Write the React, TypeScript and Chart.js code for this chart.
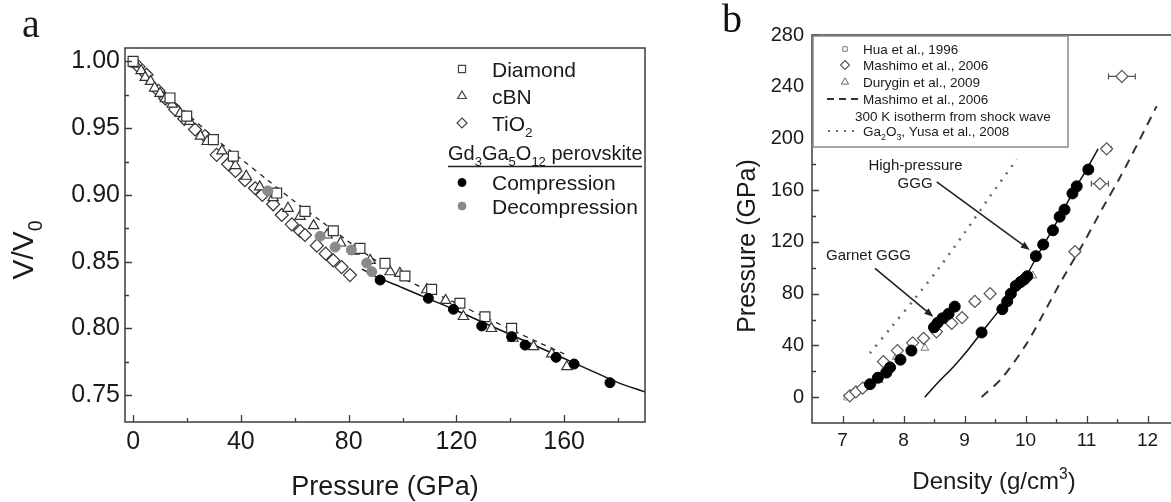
import React, { useEffect, useRef } from 'react';
import { Chart, registerables } from 'chart.js';

Chart.register(...registerables);

type Pt = [number, number];

// ---------------- Panel a: V/V0 vs Pressure (GPa) ----------------
const diamondSeries: Pt[] = [
  [0, 1.0], [13.7, 0.9726], [19.9, 0.959], [29.8, 0.9414], [37.2, 0.929], [53.3, 0.9014],
  [63.8, 0.8877], [74.3, 0.8732], [84.2, 0.86], [93.5, 0.8488], [100.9, 0.8393],
  [110.8, 0.8293], [121.3, 0.8189], [130.6, 0.8088], [140.5, 0.8002],
];
const cbnSeries: Pt[] = [
  [1, 0.998], [3, 0.993], [4.5, 0.988], [6.5, 0.985], [8, 0.98], [10, 0.976], [12, 0.972],
  [14.5, 0.968], [17.5, 0.961], [21, 0.955], [25, 0.944], [27.5, 0.94], [33, 0.933],
  [38, 0.922], [42, 0.914], [47, 0.906], [52, 0.898], [57.5, 0.89], [62, 0.884], [67, 0.877],
  [72, 0.87], [77, 0.864], [82, 0.858], [88, 0.851], [95.4, 0.8425], [99, 0.8413],
  [109, 0.829], [116, 0.821], [122.6, 0.809], [133, 0.8], [141, 0.7927], [148.6, 0.7864],
  [155.4, 0.781], [161, 0.7714],
];
const tio2Series: Pt[] = [
  [2, 0.996], [5, 0.99], [9.4, 0.978], [12, 0.972], [15.6, 0.964], [19, 0.957], [23, 0.949],
  [26.7, 0.944], [31, 0.93], [35.3, 0.923], [38, 0.918], [41.5, 0.911], [45.3, 0.905],
  [48, 0.9], [52, 0.893], [55.2, 0.885], [58.9, 0.878], [62, 0.873], [63.8, 0.87],
  [68.2, 0.862], [71.5, 0.856], [74.3, 0.851], [77.4, 0.846], [80.5, 0.84],
];
const compressionSeries: Pt[] = [
  [91.7, 0.8363], [109.6, 0.8226], [118.9, 0.8144], [129.4, 0.8019], [140.5, 0.7939],
  [145.5, 0.7876], [157, 0.7784], [163.7, 0.7734], [177, 0.7594],
];
const decompressionSeries: Pt[] = [
  [50, 0.903], [69.4, 0.869], [75, 0.861], [81, 0.8588], [86.7, 0.849], [88.6, 0.8425],
];
const perovskiteFit: Pt[] = [
  [85, 0.8445], [90, 0.839], [100, 0.8305], [110, 0.822], [120, 0.8135], [130, 0.8045],
  [140, 0.7955], [150, 0.7865], [160, 0.7775], [170, 0.7685], [180, 0.7595], [190, 0.7525],
];
const referenceFit: Pt[] = [
  [0, 1.0], [10, 0.98], [20, 0.961], [30, 0.943], [40, 0.927], [50, 0.911], [60, 0.895],
  [70, 0.88], [80, 0.865], [90, 0.851], [100, 0.838], [110, 0.828], [120, 0.819],
  [130, 0.809], [140, 0.7995], [150, 0.79], [160, 0.781],
];
const aXTicks = [0, 40, 80, 120, 160];
const aXMinor = [20, 60, 100, 140, 180];
const aYTicks = [0.75, 0.8, 0.85, 0.9, 0.95, 1.0];
const aYMinor = [0.775, 0.825, 0.875, 0.925, 0.975];
const aLegendTop = ['Diamond', 'cBN', 'TiO₂'];
const aLegendHeader = 'Gd₃Ga₅O₁₂ perovskite';
const aLegendBottom = ['Compression', 'Decompression'];

// ---------------- Panel b: Pressure (GPa) vs Density (g/cm3) ----------------
const huaSeries: Pt[] = [
  [7.07, 0], [7.12, 1.5], [7.17, 3], [7.22, 4.5], [7.29, 5.5], [7.35, 7], [7.42, 9], [7.5, 11],
];
const mashimoSeries: Pt[] = [
  [7.12, 1], [7.22, 4], [7.33, 7], [7.67, 27.5], [7.9, 36], [8.15, 42], [8.33, 45.5],
  [8.54, 50.5], [8.79, 57], [8.96, 61.5], [9.17, 74], [9.42, 80], [10.81, 112.5],
  [11.22, 165], [11.33, 192], [11.58, 248],
];
const mashimoXErr = [0, 0, 0, 0, 0, 0, 0, 0.04, 0.05, 0.05, 0.07, 0.05, 0.06, 0.14, 0.07, 0.22];
const duryginSeries: Pt[] = [
  [7.15, 2], [7.35, 7], [7.6, 13], [7.68, 21], [7.88, 31], [8.35, 38], [10.12, 94],
];
const garnetGGG: Pt[] = [
  [7.45, 10], [7.58, 15], [7.72, 19], [7.78, 23], [7.95, 29], [8.13, 36], [8.5, 54],
  [8.56, 57.5], [8.64, 61], [8.74, 64.5], [8.84, 70],
];
const highPressureGGG: Pt[] = [
  [9.28, 50], [9.62, 68], [9.7, 74], [9.76, 80], [9.84, 86], [9.92, 89], [9.98, 91],
  [10.03, 93.5], [10.17, 109], [10.29, 118], [10.45, 129], [10.56, 139.5], [10.64, 145],
  [10.77, 157.5], [10.84, 163], [11.03, 176],
];
const hpFit: Pt[] = [
  [8.35, 0], [8.6, 13], [8.82, 23.5], [9.05, 36], [9.28, 50], [9.5, 63], [9.75, 78],
  [10.0, 93], [10.2, 110], [10.4, 126], [10.6, 143], [10.8, 160], [11.0, 176], [11.19, 192],
];
const shockIsotherm: Pt[] = [
  [9.28, 0], [9.6, 14], [10.0, 40], [10.3, 65], [10.6, 91], [10.95, 119], [11.25, 145],
  [11.55, 170], [11.85, 197], [12.15, 225],
];
const ga2o3Curve: Pt[] = [
  [7.45, 34], [7.8, 54], [8.2, 77], [8.6, 101], [9.0, 127], [9.4, 154], [9.86, 184],
];
const bXTicks = [7, 8, 9, 10, 11, 12];
const bXMinor = [7.5, 8.5, 9.5, 10.5, 11.5];
const bYTicks = [0, 40, 80, 120, 160, 200, 240, 280];
const bYMinor = [20, 60, 100, 140, 180, 220, 260];
const bLegendLabels = [
  'Hua et al., 1996',
  'Mashimo et al., 2006',
  'Durygin et al., 2009',
  'Mashimo et al., 2006',
  '300 K isotherm from shock wave',
  'Ga₂O₃, Yusa et al., 2008',
];
const bNotes = [
  { lines: ['High-pressure', 'GGG'], at: [[8.197, 179.5], [8.19, 165.6]], from: [8.545, 166.5], to: [10.07, 113.8] },
  { lines: ['Garnet GGG'], at: [[7.426, 109.9]], from: [7.533, 99.6], to: [8.489, 62.2] },
];

// ---------------- styling helpers ----------------
const FONT = '"Liberation Sans", Arial, Helvetica, sans-serif';
const SERIF = '"Liberation Serif", "Times New Roman", serif';
const AX = '#3c3c3c';
const TXT = '#1a1a1a';
const SUBS = '\u2080\u2081\u2082\u2083\u2084\u2085\u2086\u2087\u2088\u2089';
const SUPS = '\u2070\u00B9\u00B2\u00B3\u2074\u2075\u2076\u2077\u2078\u2079';

function splitRich(text: string) {
  const out: { t: string; k: number }[] = [];
  for (const ch of Array.from(text)) {
    let k = 0;
    let c = ch;
    const si = SUBS.indexOf(ch);
    const pi = SUPS.indexOf(ch);
    if (si >= 0) { k = 1; c = String(si); } else if (pi >= 0) { k = 2; c = String(pi); }
    const last = out[out.length - 1];
    if (last && last.k === k) last.t += c; else out.push({ t: c, k });
  }
  return out;
}

function drawRich(ctx: CanvasRenderingContext2D, text: string, x: number, y: number, size: number, align: 'left' | 'center' | 'right') {
  const parts = splitRich(text);
  const widths = parts.map((p) => {
    ctx.font = `${p.k ? size * 0.65 : size}px ${FONT}`;
    return ctx.measureText(p.t).width;
  });
  const total = widths.reduce((a, b) => a + b, 0);
  let cx = align === 'center' ? x - total / 2 : align === 'right' ? x - total : x;
  ctx.textAlign = 'left';
  ctx.textBaseline = 'alphabetic';
  parts.forEach((p, i) => {
    ctx.font = `${p.k ? size * 0.65 : size}px ${FONT}`;
    const dy = p.k === 1 ? size * 0.3 : p.k === 2 ? -size * 0.42 : 0;
    ctx.fillText(p.t, cx, y + dy);
    cx += widths[i];
  });
}

function marker(ctx: CanvasRenderingContext2D, style: string, x: number, y: number, r: number, fill: string, stroke: string, lw = 1.2) {
  ctx.beginPath();
  if (style === 'rect') {
    const s = r * Math.SQRT1_2;
    ctx.rect(x - s, y - s, 2 * s, 2 * s);
  } else if (style === 'rectRot') {
    ctx.moveTo(x, y - r); ctx.lineTo(x + r, y); ctx.lineTo(x, y + r); ctx.lineTo(x - r, y); ctx.closePath();
  } else if (style === 'triangle') {
    for (let i = 0; i < 3; i++) {
      const a = (i * 2 * Math.PI) / 3;
      const px = x + Math.sin(a) * r;
      const py = y - Math.cos(a) * r;
      if (i === 0) ctx.moveTo(px, py); else ctx.lineTo(px, py);
    }
    ctx.closePath();
  } else {
    ctx.arc(x, y, r, 0, Math.PI * 2);
  }
  ctx.fillStyle = fill;
  ctx.fill();
  ctx.lineWidth = lw;
  ctx.strokeStyle = stroke;
  ctx.stroke();
}

function inwardTicks(ctx: CanvasRenderingContext2D, chart: any, xv: number[], yv: number[], len: number) {
  const { left, bottom } = chart.chartArea;
  const xs = chart.scales.x;
  const ys = chart.scales.y;
  ctx.beginPath();
  xv.filter((v) => v >= xs.min && v <= xs.max).forEach((v) => {
    const p = Math.round(xs.getPixelForValue(v)) + 0.5;
    ctx.moveTo(p, bottom); ctx.lineTo(p, bottom - len);
  });
  yv.filter((v) => v >= ys.min && v <= ys.max).forEach((v) => {
    const p = Math.round(ys.getPixelForValue(v)) + 0.5;
    ctx.moveTo(left, p); ctx.lineTo(left + len, p);
  });
  ctx.strokeStyle = AX;
  ctx.lineWidth = 1.3;
  ctx.stroke();
}

const pts = (a: Pt[]) => a.map(([x, y]) => ({ x, y }));

function axis(min: number, max: number, ticks: number[], fmt: (v: number) => string, size: number, pad: number, fit: (s: any) => void) {
  return {
    type: 'linear' as const,
    min,
    max,
    grid: { display: false, drawTicks: false },
    border: { display: false },
    ticks: {
      autoSkip: false,
      maxRotation: 0,
      minRotation: 0,
      padding: pad,
      color: TXT,
      font: { family: FONT, size },
      callback: (v: any) => fmt(Number(v)),
    },
    afterBuildTicks: (s: any) => { s.ticks = ticks.map((value) => ({ value })); },
    afterFit: fit,
  };
}

// ---------------- panel a plugin ----------------
const panelA = {
  id: 'panelA',
  afterDraw(chart: any) {
    const ctx: CanvasRenderingContext2D = chart.ctx;
    const { left, right, top, bottom } = chart.chartArea;
    ctx.save();
    ctx.strokeStyle = AX;
    ctx.lineWidth = 1.5;
    ctx.strokeRect(left, top, right - left, bottom - top);
    inwardTicks(ctx, chart, aXTicks, aYTicks, 7);
    inwardTicks(ctx, chart, aXMinor, aYMinor, 4);

    ctx.fillStyle = TXT;
    drawRich(ctx, 'Pressure (GPa)', (left + right) / 2, 495, 27, 'center');
    ctx.save();
    ctx.translate(33, 250);
    ctx.rotate(-Math.PI / 2);
    drawRich(ctx, 'V/V₀', 0, 0, 30, 'center');
    ctx.restore();

    ctx.font = `40px ${SERIF}`;
    ctx.textAlign = 'left';
    ctx.textBaseline = 'alphabetic';
    ctx.fillText('a', 22, 37);

    // legend
    const mx = 462;
    const tx = 492;
    const rows = [69, 96, 123];
    const styles = ['rect', 'triangle', 'rectRot'];
    rows.forEach((y, i) => {
      marker(ctx, styles[i], mx, y, 5, '#fff', '#444', 1.2);
      ctx.fillStyle = TXT;
      drawRich(ctx, aLegendTop[i], tx, y + 7.5, 21, 'left');
    });
    ctx.fillStyle = TXT;
    drawRich(ctx, aLegendHeader, 448, 160, 20, 'left');
    ctx.beginPath();
    ctx.moveTo(448, 166.5);
    ctx.lineTo(642, 166.5);
    ctx.strokeStyle = '#222';
    ctx.lineWidth = 1.5;
    ctx.stroke();
    const rows2 = [182.5, 206];
    const fills = ['#000', '#8a8a8a'];
    rows2.forEach((y, i) => {
      marker(ctx, 'circle', mx, y, 4, fills[i], fills[i], 1);
      ctx.fillStyle = TXT;
      drawRich(ctx, aLegendBottom[i], tx, y + 7.5, 21, 'left');
    });
    ctx.restore();
  },
};

// ---------------- panel b plugin ----------------
const panelB = {
  id: 'panelB',
  beforeDatasetsDraw(chart: any) {
    const ctx: CanvasRenderingContext2D = chart.ctx;
    const xs = chart.scales.x;
    const ys = chart.scales.y;
    ctx.save();
    ctx.strokeStyle = '#555';
    ctx.lineWidth = 1.2;
    ctx.beginPath();
    mashimoSeries.forEach(([d, p], i) => {
      const e = mashimoXErr[i];
      if (!e) return;
      const x1 = xs.getPixelForValue(d - e);
      const x2 = xs.getPixelForValue(d + e);
      const y = ys.getPixelForValue(p);
      ctx.moveTo(x1, y); ctx.lineTo(x2, y);
      ctx.moveTo(x1, y - 3); ctx.lineTo(x1, y + 3);
      ctx.moveTo(x2, y - 3); ctx.lineTo(x2, y + 3);
    });
    ctx.stroke();
    ctx.restore();
  },
  afterDraw(chart: any) {
    const ctx: CanvasRenderingContext2D = chart.ctx;
    const { left, right, top, bottom } = chart.chartArea;
    const xs = chart.scales.x;
    const ys = chart.scales.y;
    ctx.save();
    ctx.strokeStyle = AX;
    ctx.lineWidth = 1.5;
    ctx.beginPath();
    ctx.moveTo(right + 5, top); ctx.lineTo(left, top); ctx.lineTo(left, bottom); ctx.lineTo(right + 5, bottom);
    ctx.stroke();
    inwardTicks(ctx, chart, bXTicks, bYTicks, 7);
    inwardTicks(ctx, chart, bXMinor, bYMinor, 4);

    // annotations
    bNotes.forEach((n) => {
      ctx.fillStyle = TXT;
      n.lines.forEach((t, i) => {
        drawRich(ctx, t, xs.getPixelForValue(n.at[i][0]), ys.getPixelForValue(n.at[i][1]) + 5.3, 15, 'center');
      });
      const x1 = xs.getPixelForValue(n.from[0]);
      const y1 = ys.getPixelForValue(n.from[1]);
      const x2 = xs.getPixelForValue(n.to[0]);
      const y2 = ys.getPixelForValue(n.to[1]);
      const ang = Math.atan2(y2 - y1, x2 - x1);
      ctx.beginPath();
      ctx.moveTo(x1, y1);
      ctx.lineTo(x2 - Math.cos(ang) * 6, y2 - Math.sin(ang) * 6);
      ctx.strokeStyle = '#222';
      ctx.lineWidth = 1.6;
      ctx.stroke();
      ctx.beginPath();
      ctx.moveTo(x2, y2);
      ctx.lineTo(x2 - Math.cos(ang) * 9 + Math.sin(ang) * 3.5, y2 - Math.sin(ang) * 9 - Math.cos(ang) * 3.5);
      ctx.lineTo(x2 - Math.cos(ang) * 9 - Math.sin(ang) * 3.5, y2 - Math.sin(ang) * 9 + Math.cos(ang) * 3.5);
      ctx.closePath();
      ctx.fillStyle = '#222';
      ctx.fill();
    });

    // legend box
    const bx = left + 1;
    const by = top + 1;
    ctx.fillStyle = '#fff';
    ctx.fillRect(bx, by, 255, 111);
    ctx.strokeStyle = '#888';
    ctx.lineWidth = 1.5;
    ctx.strokeRect(bx, by, 255, 111);
    const mx = bx + 32;
    const tx = bx + 50;
    const rows = [49, 65, 82, 99, 116, 131];
    marker(ctx, 'rect', mx, rows[0], 3.2, '#fff', '#777', 1);
    marker(ctx, 'rectRot', mx, rows[1], 4.5, '#fff', '#555', 1.1);
    marker(ctx, 'triangle', mx, rows[2], 4.2, '#fff', '#666', 1);
    ctx.beginPath();
    ctx.setLineDash([7, 5]);
    ctx.moveTo(bx + 14, rows[3]); ctx.lineTo(bx + 47, rows[3]);
    ctx.strokeStyle = '#333';
    ctx.lineWidth = 1.8;
    ctx.stroke();
    ctx.beginPath();
    ctx.setLineDash([2, 6]);
    ctx.moveTo(bx + 15, rows[5]); ctx.lineTo(bx + 47, rows[5]);
    ctx.strokeStyle = '#666';
    ctx.lineWidth = 2.2;
    ctx.stroke();
    ctx.setLineDash([]);
    ctx.fillStyle = TXT;
    rows.forEach((y, i) => {
      drawRich(ctx, bLegendLabels[i], i === 4 ? bx + 42 : tx, y + 4.8, 13.5, 'left');
    });

    // titles
    ctx.fillStyle = TXT;
    drawRich(ctx, 'Density (g/cm³)', 334, 489, 24, 'center');
    ctx.save();
    ctx.translate(95, 246);
    ctx.rotate(-Math.PI / 2);
    drawRich(ctx, 'Pressure (GPa)', 0, 0, 25, 'center');
    ctx.restore();

    ctx.font = `40px ${SERIF}`;
    ctx.textAlign = 'left';
    ctx.textBaseline = 'alphabetic';
    ctx.fillStyle = '#111';
    ctx.fillText('b', 62, 32);
    ctx.restore();
  },
};

function scatterSet(label: string, data: Pt[], style: string, r: number, fill: string, stroke: string, lw: number, order: number) {
  return {
    label,
    data: pts(data),
    showLine: false,
    pointStyle: style,
    pointRadius: r,
    pointHoverRadius: r,
    pointBackgroundColor: fill,
    pointBorderColor: stroke,
    pointBorderWidth: lw,
    order,
  };
}

function lineSet(label: string, data: Pt[], color: string, width: number, dash: number[], order: number) {
  return {
    label,
    data: pts(data),
    showLine: true,
    pointRadius: 0,
    borderColor: color,
    borderWidth: width,
    borderDash: dash,
    fill: false,
    tension: 0.3,
    order,
  };
}

export default function App() {
  const aRef = useRef<HTMLCanvasElement>(null);
  const bRef = useRef<HTMLCanvasElement>(null);

  useEffect(() => {
    const chartA = new Chart(aRef.current as HTMLCanvasElement, {
      type: 'scatter',
      data: {
        datasets: [
          scatterSet('Compression', compressionSeries, 'circle', 5, '#000', '#000', 1, 0),
          scatterSet('Decompression', decompressionSeries, 'circle', 5, '#8a8a8a', '#8a8a8a', 1, 1),
          scatterSet('Diamond', diamondSeries, 'rect', 7, '#fff', '#333', 1.2, 2),
          scatterSet('cBN', cbnSeries, 'triangle', 6, '#fff', '#333', 1.2, 3),
          scatterSet('TiO2', tio2Series, 'rectRot', 6.5, '#fff', '#333', 1.2, 4),
          lineSet('perovskite fit', perovskiteFit, '#111', 1.5, [], 10),
          lineSet('reference fit', referenceFit, '#222', 1.3, [5, 5], 11),
        ] as any,
      },
      options: {
        responsive: false,
        animation: false,
        devicePixelRatio: 1,
        layout: { padding: { left: 0, top: 48, right: 15, bottom: 0 } },
        plugins: { legend: { display: false }, tooltip: { enabled: false } },
        scales: {
          x: axis(-3, 190, aXTicks, (v) => String(v), 25, 5, (s: any) => { s.height = 80; }),
          y: axis(0.73, 1.01, aYTicks, (v) => v.toFixed(2), 25, 5, (s: any) => { s.width = 125; }),
        },
      } as any,
      plugins: [panelA],
    });

    const chartB = new Chart(bRef.current as HTMLCanvasElement, {
      type: 'scatter',
      data: {
        datasets: [
          scatterSet('High-pressure GGG', highPressureGGG, 'circle', 5.5, '#000', '#000', 1, 0),
          scatterSet('Garnet GGG', garnetGGG, 'circle', 5.5, '#000', '#000', 1, 1),
          scatterSet('Mashimo et al., 2006', mashimoSeries, 'rectRot', 6, '#fff', '#555', 1.2, 2),
          scatterSet('Durygin et al., 2009', duryginSeries, 'triangle', 4.5, '#fff', '#777', 1, 3),
          scatterSet('Hua et al., 1996', huaSeries, 'rect', 4, '#fff', '#888', 1, 4),
          lineSet('high-pressure fit', hpFit, '#111', 1.5, [], 10),
          lineSet('300 K isotherm', shockIsotherm, '#333', 2, [9, 7], 11),
          lineSet('Ga2O3', ga2o3Curve, '#666', 2.5, [2, 7], 12),
        ] as any,
      },
      options: {
        responsive: false,
        animation: false,
        devicePixelRatio: 1,
        layout: { padding: { left: 0, top: 35, right: 12, bottom: 0 } },
        plugins: { legend: { display: false }, tooltip: { enabled: false } },
        scales: {
          x: axis(6.5, 12.5, bXTicks, (v) => String(v), 19, 6, (s: any) => { s.height = 79; }),
          y: axis(-20, 280, bYTicks, (v) => String(v), 20, 8, (s: any) => { s.width = 152; }),
        },
      } as any,
      plugins: [panelB],
    });

    return () => {
      chartA.destroy();
      chartB.destroy();
    };
  }, []);

  return (
    <div style={{ position: 'fixed', left: 0, top: 0, width: 1171, height: 502, overflow: 'hidden', background: '#fff' }}>
      <canvas ref={aRef} width={660} height={502} style={{ position: 'absolute', left: 0, top: 0, width: 660, height: 502 }} />
      <canvas ref={bRef} width={530} height={502} style={{ position: 'absolute', left: 660, top: 0, width: 530, height: 502 }} />
    </div>
  );
}
